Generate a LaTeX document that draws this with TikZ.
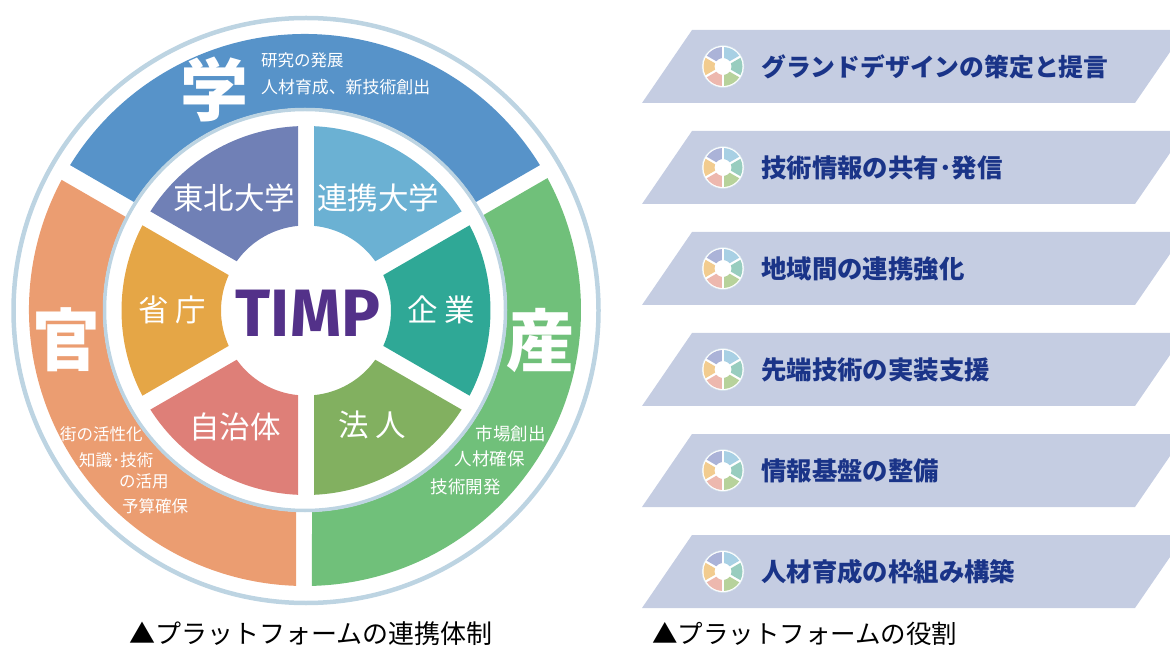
\documentclass[tikz,border=0pt]{standalone}
\usepackage{fontspec}
\usepackage{xcolor}
\usetikzlibrary{calc,positioning}
\setmainfont{Noto Sans CJK JP}
\setsansfont{Fira Sans}
\definecolor{ringcol}{HTML}{BDD4E2}
\definecolor{gakucol}{HTML}{5793C9}
\definecolor{kancol}{HTML}{EB9D71}
\definecolor{sancol}{HTML}{70C07A}
\definecolor{tohokucol}{HTML}{7080B6}
\definecolor{renkeicol}{HTML}{6BB1D3}
\definecolor{kigyocol}{HTML}{2FA896}
\definecolor{hojincol}{HTML}{82B060}
\definecolor{jichicol}{HTML}{DE7F78}
\definecolor{shochocol}{HTML}{E5A646}
\definecolor{timpcol}{HTML}{533189}
\definecolor{barcol}{HTML}{C5CDE2}
\definecolor{bartext}{HTML}{1A3488}
\definecolor{paleA}{HTML}{ABB3D8}
\definecolor{paleB}{HTML}{A8D0E4}
\definecolor{paleC}{HTML}{98CDBF}
\definecolor{paleD}{HTML}{B7D29B}
\definecolor{paleE}{HTML}{EDB8AE}
\definecolor{paleF}{HTML}{F2CC8F}
% sector: centre, from, to, inner radius, outer radius, half gap, colour
\newcommand{\sector}[7]{%
  \pgfmathsetmacro{\dout}{asin(#6/#5)}
  \pgfmathsetmacro{\din}{asin(#6/#4)}
  \fill[#7] ($(#1)+(#2+\dout:#5)$) arc[start angle=#2+\dout,end angle=#3-\dout,radius=#5]
    -- ($(#1)+(#3-\din:#4)$) arc[start angle=#3-\din,end angle=#2+\din,radius=#4] -- cycle;}
% small wheel of a bar
\newcommand{\wheel}[1]{%
  \fill[white] (#1) circle (21);
  \draw[ringcol!70,line width=0.5] (#1) circle (21);
  \sector{#1}{30}{90}{8.5}{19.5}{1.2}{paleB}
  \sector{#1}{90}{150}{8.5}{19.5}{1.2}{paleA}
  \sector{#1}{150}{210}{8.5}{19.5}{1.2}{paleF}
  \sector{#1}{210}{270}{8.5}{19.5}{1.2}{paleE}
  \sector{#1}{270}{330}{8.5}{19.5}{1.2}{paleD}
  \sector{#1}{330}{390}{8.5}{19.5}{1.2}{paleC}}
% one bar on the right: top edge y, name, text
\newcommand{\rolebar}[3]{%
  \fill[barcol] (692,#1) -- (1170,#1) -- (1170,#1-22) -- (1135,#1-73) -- (642,#1-73) -- cycle;
  \coordinate (#2w) at (723,#1-36.5);
  \wheel{#2w}
  \node[bartitle] (#2) at (761,#1-36.5) {#3};}
\tikzset{
  bartitle/.style={anchor=west,inner sep=0,text=bartext,font=\fontsize{25.4}{25.4}\selectfont\bfseries},
  bigchar/.style={text=white,inner sep=0,font=\fontsize{68}{68}\selectfont\bfseries},
  seclabel/.style={text=white,inner sep=0,font=\fontsize{30.5}{30.5}\selectfont},
  smalltext/.style={text=white,inner sep=0,font=\fontsize{16.5}{16.5}\selectfont},
  largersmall/.style={smalltext,font=\fontsize{17.5}{17.5}\selectfont},
  caption/.style={anchor=west,inner sep=0,text=black,font=\fontsize{26}{26}\selectfont}
}

\begin{document}
\begin{tikzpicture}[x=1pt,y=1pt]
\useasboundingbox (0,0) rectangle (1170,646);
\coordinate (mid) at (306,335.5);
\coordinate (band) at (305,336);

\draw[ringcol,line width=4.5] (mid) circle (292.5);
\sector{band}{30}{150}{202}{276}{8}{gakucol}
\sector{band}{150}{270}{202}{276}{9}{kancol}
\sector{band}{270}{390}{202}{276}{7}{sancol}
\draw[ringcol,line width=3.5] (band) circle (200.5);

\sector{mid}{30}{90}{85}{184.5}{8}{renkeicol}
\sector{mid}{90}{150}{85}{184.5}{8}{tohokucol}
\sector{mid}{150}{210}{85}{184.5}{8}{shochocol}
\sector{mid}{210}{270}{85}{184.5}{8}{jichicol}
\sector{mid}{270}{330}{85}{184.5}{8}{hojincol}
\sector{mid}{330}{390}{85}{184.5}{8}{kigyocol}

\node[text=timpcol,inner sep=0,font=\sffamily\fontsize{67}{67}\selectfont\bfseries] (timp) at (308,333) {\scalebox{.97}[1]{TIMP}};

\node[seclabel] (tohoku) at (234,448) {東北大学};
\node[seclabel] (renkei) at (378,448) {連携大学};
\node[seclabel] (kigyo) at (441,336) {企 業};
\node[seclabel] (hojin) at (372,221) {法 人};
\node[seclabel] (jichi) at (235,219) {自治体};
\node[seclabel] (shocho) at (172,336) {省 庁};

\node[bigchar] (gaku) at (214,557) {学};
\node[bigchar] (kan) at (66,306) {官};
\node[bigchar] (san) at (540,305) {産};

\node[smalltext,anchor=west] (gakua) at (261,586) {研究の発展};
\node[smalltext,anchor=west,font=\fontsize{16.9}{16.9}\selectfont] (gakub) at (261,559) {人材育成、新技術創出};

\node[largersmall,anchor=east] (sana) at (546,212) {市場創出};
\node[largersmall,anchor=east] (sanb) at (525,187) {人材確保};
\node[largersmall,anchor=east] (sanc) at (501,159) {技術開発};

\node[smalltext,anchor=west] (kana) at (60,212) {街の活性化};
\node[smalltext,anchor=west] (kanb) at (79,186) {知識･技術};
\node[smalltext,anchor=west] (kanc) at (119,165) {の活用};
\node[smalltext,anchor=west] (kand) at (122,140) {予算確保};

\rolebar{616}{grand}{\fontsize{24.8}{24.8}\selectfont グランドデザインの策定と提言}
\rolebar{515}{joho}{技術情報の共有･発信}
\rolebar{414}{chiiki}{地域間の連携強化}
\rolebar{313}{sentan}{先端技術の実装支援}
\rolebar{212}{kiban}{情報基盤の整備}
\rolebar{111}{jinzai}{人材育成の枠組み構築}

\node[caption] (capa) at (129,12) {▲プラットフォームの連携体制};
\node[caption,font=\fontsize{25.5}{25.5}\selectfont] (capb) at (652,12) {▲プラットフォームの役割};
\end{tikzpicture}
\end{document}
